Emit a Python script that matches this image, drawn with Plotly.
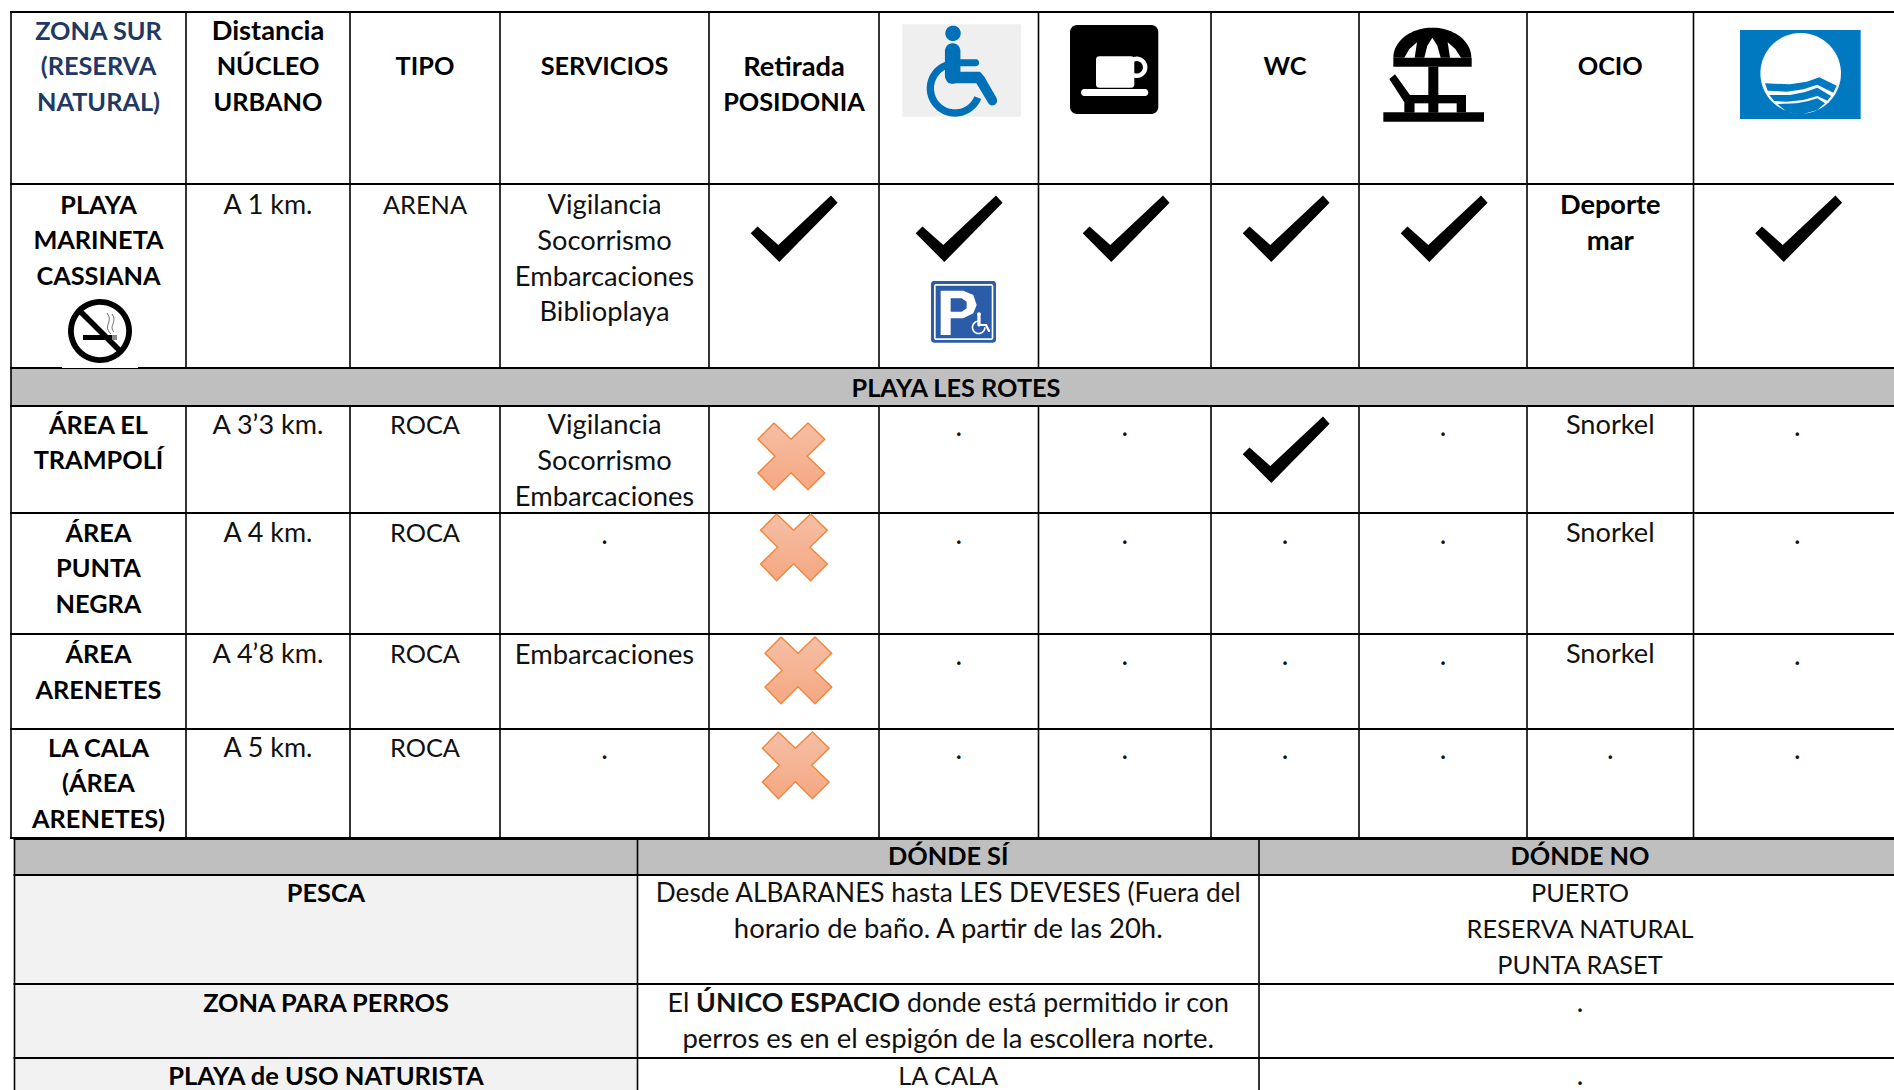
import re
import numpy as np
import plotly.graph_objects as go

# ---------- table content ----------
header_lines = [
    ["ZONA SUR", "(RESERVA", "NATURAL)"],
    ["Distancia", "NÚCLEO", "URBANO"],
    ["", "TIPO"],
    ["", "SERVICIOS"],
    ["", "Retirada", "POSIDONIA"],
    [],
    [],
    ["", "WC"],
    [],
    ["", "OCIO"],
    [],
]
zones = [
    ["PLAYA", "MARINETA", "CASSIANA"],
    ["ÁREA EL", "TRAMPOLÍ"],
    ["ÁREA", "PUNTA", "NEGRA"],
    ["ÁREA", "ARENETES"],
    ["LA CALA", "(ÁREA", "ARENETES)"],
]
distances = ["A 1 km.", "A 3’3 km.", "A 4 km.", "A 4’8 km.", "A 5 km."]
types = ["ARENA", "ROCA", "ROCA", "ROCA", "ROCA"]
services = [
    ["Vigilancia", "Socorrismo", "Embarcaciones", "Biblioplaya"],
    ["Vigilancia", "Socorrismo", "Embarcaciones"],
    ["."],
    ["Embarcaciones"],
    ["."],
]
leisure = [["Deporte", "mar"], ["Snorkel"], ["Snorkel"], ["Snorkel"], ["."]]
posidonia = ["yes", "no", "no", "no", "no"]
accessible = ["yes", ".", ".", ".", "."]
cafe = ["yes", ".", ".", ".", "."]
wc = ["yes", "yes", ".", ".", "."]
sunshade = ["yes", ".", ".", ".", "."]
blue_flag = ["yes", ".", ".", ".", "."]
section_title = "PLAYA LES ROTES"

lower_headers = ["", "DÓNDE SÍ", "DÓNDE NO"]
lower_topics = ["PESCA", "ZONA PARA PERROS", "PLAYA de USO NATURISTA"]
lower_yes = [
    ["Desde ALBARANES hasta LES DEVESES (Fuera del", "horario de baño. A partir de las 20h."],
    ["El <b>ÚNICO ESPACIO</b> donde está permitido ir con", "perros es en el espigón de la escollera norte."],
    ["LA CALA"],
]
lower_no = [["PUERTO", "RESERVA NATURAL", "PUNTA RASET"], ["."], ["."]]

# ---------- layout constants (page pixels) ----------
W, H = 1894, 1090
COLS = [11, 186, 350, 500, 709, 879, 1038.5, 1211, 1359, 1527, 1693.5, 1901]
ROWS = [12, 184, 368, 406, 513, 634, 729, 838]
LOWER_COLS = [14.5, 637.5, 1259, 1901]
LOWER_ROWS = [839, 875, 984, 1058, 1100]
centers = [(a + b) / 2 for a, b in zip(COLS, COLS[1:])]
lower_centers = [(a + b) / 2 for a, b in zip(LOWER_COLS, LOWER_COLS[1:])]
HEADER_Y = 31
ROW_Y = [205, 425, 533, 654.3, 748]
LINE = 35.7
SECTION_Y = 388
LOWER_HEADER_Y = 856.2
LOWER_Y = [893.4, 1003.4, 1076.2]
FONT = "Lato"
TEXT_SHIFT = 2.4
CHECK_TOP = [196, 417, 0, 0, 0]
CHECK_LEFT = {4: 751, 5: 916, 6: 1083, 7: 1243, 8: 1401, 10: 1755.5}
CROSS_POS = {1: (758, 423), 2: (760.6, 514), 3: (765, 637), 4: (762.4, 732)}
CHECK_SHAPE = [(80, -0.5), (86.6, 6.7), (28.3, 66), (-0.3, 37.3), (6.5, 30.5), (27.3, 49)]
CROSS_SHAPE = [(16, 0), (33, 16.3), (50, 0), (66.7, 16.3), (49.3, 33.3), (66.7, 50),
               (50, 66.7), (33, 49.7), (16, 66.7), (0, 50), (17, 33.3), (0, 16.3)]

shapes = []


def path(points, close=True):
    s = "M" + " L".join(f"{x:.2f},{y:.2f}" for x, y in points)
    return s + (" Z" if close else "")


def fill(points, color):
    d = points if isinstance(points, str) else path(points)
    shapes.append(dict(type="path", path=d, fillcolor=color, line=dict(width=0), layer="below",
                       xref="x", yref="y"))


def rect(x0, y0, x1, y1, color):
    fill([(x0, y0), (x1, y0), (x1, y1), (x0, y1)], color)


def arc(cx, cy, rx, ry, a0, a1, n=48):
    t = np.radians(np.linspace(a0, a1, n))
    return list(zip(cx + rx * np.cos(t), cy + ry * np.sin(t)))


def circle(cx, cy, r, color):
    fill(arc(cx, cy, r, r, 0, 360, 72), color)


def ring(cx, cy, ro, ri, a0, a1, color):
    fill(arc(cx, cy, ro, ro, a0, a1) + arc(cx, cy, ri, ri, a1, a0), color)


def capsule(x0, y0, x1, y1, w, color):
    a = np.degrees(np.arctan2(y1 - y0, x1 - x0))
    r = w / 2
    fill(arc(x0, y0, r, r, a + 90, a + 270, 14) + arc(x1, y1, r, r, a - 90, a + 90, 14), color)


def rrect(x0, y0, x1, y1, r, color):
    pts = (arc(x1 - r, y0 + r, r, r, -90, 0, 8) + arc(x1 - r, y1 - r, r, r, 0, 90, 8)
           + arc(x0 + r, y1 - r, r, r, 90, 180, 8) + arc(x0 + r, y0 + r, r, r, 180, 270, 8))
    fill(pts, color)


def hline(y, x0, x1, w=2):
    shapes.append(dict(type="line", x0=x0, x1=x1, y0=y, y1=y, xref="x", yref="y", layer="below",
                       line=dict(color="black", width=w)))


def vline(x, y0, y1, w=1.6):
    shapes.append(dict(type="line", x0=x, x1=x, y0=y0, y1=y1, xref="x", yref="y", layer="below",
                       line=dict(color="black", width=w)))


# ---------- backgrounds ----------
rect(COLS[0], ROWS[2], W + 10, ROWS[3], "#BFBFBF")
rect(LOWER_COLS[0], LOWER_ROWS[0], W + 10, LOWER_ROWS[1], "#BFBFBF")
rect(LOWER_COLS[0], LOWER_ROWS[1], LOWER_COLS[1], H + 10, "#F2F2F2")

# ---------- grid ----------
for y in ROWS:
    hline(y, COLS[0] - 1, W + 10)
for x in COLS[:-1]:
    vline(x, ROWS[0], ROWS[2])
    vline(x, ROWS[3], ROWS[-1])
vline(COLS[0], ROWS[2], ROWS[3])
for y in LOWER_ROWS[:-1]:
    hline(y, LOWER_COLS[0] - 1, W + 10)
for x in LOWER_COLS[:-1]:
    vline(x, LOWER_ROWS[0], H + 10)
rect(62, 366.5, 138, 368, "white")


# ---------- header pictograms ----------
def wheelchair():
    B = "#0071B8"
    rect(902.3, 24.3, 1021, 116.7, "#EFEFEF")
    ox, oy = 895, 15
    p = lambda x, y: (ox + x / 3, oy + y / 3)
    circle(*p(174, 55), 7.7, B)
    capsule(*p(173, 108), *p(173, 183), 15.5, B)
    capsule(*p(190, 143), *p(242, 143), 7, B)
    fill([p(160, 170), p(255, 170), p(268, 185), p(305, 250), p(285, 268), p(245, 205), p(160, 205)], B)
    capsule(*p(252, 190), *p(292, 257), 9.5, B)
    cx, cy = p(180, 220)
    ring(cx, cy, 28.3, 21, 22, 250, B)


def coffee():
    rrect(1070, 25, 1158.3, 114, 7, "black")
    circle(1136.7, 67.3, 10.7, "white")
    circle(1136.7, 67.3, 6.2, "black")
    rrect(1096, 56.3, 1134.3, 87.7, 3, "white")
    rrect(1081, 89, 1148.3, 96, 3.4, "white")


def sunshade_icon():
    ox, oy = 1370, 15
    p = lambda x, y: (ox + x / 3, oy + y / 3)
    cx, cy = p(187, 128)
    fill(arc(cx, cy, 117 / 3, 90 / 3, 180, 360), "black")
    rect(*p(70, 128), *p(305, 155), "black")
    for pane in ([(103, 128), (118, 102), (141, 82), (134, 128)],
                 [(163, 128), (172, 92), (187, 68), (202, 92), (212, 128)],
                 [(240, 128), (233, 82), (256, 102), (273, 128)]):
        fill([p(*q) for q in pane], "white")
    rect(*p(175, 155), *p(205, 292), "black")
    rect(*p(40, 292), *p(342, 320), "black")
    rect(*p(105, 240), *p(288, 292), "black")
    rect(*p(133, 265), *p(175, 292), "white")
    rect(*p(205, 265), *p(260, 292), "white")
    fill([p(*q) for q in [(58, 192), (75, 178), (120, 240), (133, 240), (133, 292), (103, 292), (103, 262)]], "black")


def flag():
    B = "#0079C1"
    ox, oy = 1730, 20
    p = lambda x, y: (ox + x / 3, oy + y / 3)
    rect(*p(30, 30), *p(392, 297), B)
    circle(*p(212, 160), 40.3, "white")
    for band in ([(105, 190), (180, 193), (230, 185), (268, 172), (320, 197), (310, 218), (262, 194), (220, 208), (170, 215), (113, 212)],
                 [(118, 225), (180, 225), (225, 216), (262, 203), (303, 228), (292, 242), (262, 228), (220, 240), (170, 245), (132, 243)],
                 [(142, 252), (200, 250), (235, 243), (262, 235), (285, 250), (262, 270), (212, 284), (170, 275)]):
        fill([p(*q) for q in band], B)


def parking():
    B = "#2B5CAA"
    ox, oy = 920, 270
    p = lambda x, y: (ox + x / 3, oy + y / 3)
    rrect(*p(33, 33), *p(228, 218), 3, B)
    rrect(*p(42, 42), *p(220, 210), 2, "white")
    rect(*p(47, 47), *p(215, 205), B)
    hole = path([p(92, 85), p(125, 85), p(140, 95), p(140, 115), p(125, 125), p(92, 125)])
    outer = path([p(62, 62), p(130, 62), p(160, 75), p(170, 105), p(160, 130), p(130, 145),
                  p(92, 145), p(92, 195), p(62, 195)])
    fill(outer + " " + hole, "white")
    circle(*p(177, 133), 2, "white")
    capsule(*p(177, 140), *p(177, 165), 3.2, "white")
    capsule(*p(177, 165), *p(198, 165), 2.2, "white")
    capsule(*p(198, 165), *p(207, 183), 2.2, "white")
    cx, cy = p(176, 172)
    ring(cx, cy, 7, 5.4, 0, 270, "white")


def no_smoking():
    cx, cy = 100, 331
    ring(cx, cy, 32, 26.2, 0, 360, "black")
    a = np.radians(45)
    capsule(cx - 27 * np.cos(a), cy - 27 * np.sin(a), cx + 27 * np.cos(a), cy + 27 * np.sin(a), 5.6, "black")
    rect(cx - 17, cy + 4, cx + 12, cy + 9, "black")
    rect(cx + 12, cy + 4, cx + 17, cy + 9, "#8A8A8A")
    shapes.append(dict(type="path", xref="x", yref="y", layer="below", line=dict(color="#707070", width=1),
                       path=f"M{cx + 11},{cy + 3} C{cx + 2},{cy - 5} {cx + 14},{cy - 9} {cx + 7},{cy - 18}"))
    shapes.append(dict(type="path", xref="x", yref="y", layer="below", line=dict(color="#707070", width=1),
                       path=f"M{cx + 14},{cy + 1} C{cx + 8},{cy - 5} {cx + 18},{cy - 9} {cx + 12},{cy - 17}"))


wheelchair(); coffee(); sunshade_icon(); flag(); parking(); no_smoking()

# ---------- collect text ----------
bold = ([], [], [])
regular = ([], [], [])
navy = ([], [], [])


def put(bucket, x, y, lines, dot_dy=3.8):
    for i, t in enumerate(lines):
        if t:
            bucket[0].append(x)
            bucket[1].append(y + i * LINE + (dot_dy if t == "." else TEXT_SHIFT))
            bucket[2].append(t)


def font_size(text):
    """Lato's capitals run wider than the reference's, its lowercase narrower."""
    plain = re.sub(r"<[^>]+>", "", text)
    chars = [c for c in plain if c.isalnum()]
    if not chars:
        return 28
    frac = sum(c.islower() or c.isdigit() for c in chars) / len(chars)
    return 25.3 + 2.2 * frac


for c, lines in enumerate(header_lines):
    put(navy if c == 0 else bold, centers[c], HEADER_Y, lines)
for r in range(5):
    y = ROW_Y[r]
    put(bold, centers[0], y, zones[r])
    put(regular, centers[1], y, [distances[r]])
    put(regular, centers[2], y, [types[r]])
    put(regular, centers[3], y, services[r])
    put(bold if r == 0 else regular, centers[9], y, leisure[r])
put(bold, (COLS[0] + 1901) / 2, SECTION_Y, [section_title])
for x, t in zip(lower_centers, lower_headers):
    put(bold, x, LOWER_HEADER_Y, [t])
for r in range(3):
    put(bold, lower_centers[0], LOWER_Y[r], [lower_topics[r]])
    put(regular, lower_centers[1], LOWER_Y[r], lower_yes[r])
    put(regular, lower_centers[2], LOWER_Y[r], lower_no[r], dot_dy=1.8)

# ---------- marks ----------
fig = go.Figure()
for col, values in {5: accessible, 6: cafe, 7: wc, 8: sunshade, 10: blue_flag, 4: posidonia}.items():
    for r, v in enumerate(values):
        if v == "yes":
            left, top = CHECK_LEFT[col], CHECK_TOP[r]
            fill([(left + a, top + b) for a, b in CHECK_SHAPE], "black")
        elif v == ".":
            put(regular, centers[col], ROW_Y[r], ["."])
        elif v == "no":
            left, top = CROSS_POS[r]
            pts = CROSS_SHAPE + CROSS_SHAPE[:1]
            fig.add_trace(go.Scatter(
                x=[left + a for a, _ in pts], y=[top + b for _, b in pts],
                mode="lines", fill="toself", line=dict(color="#F0883F", width=1.5),
                fillgradient=dict(type="vertical", colorscale=[[0, "#F5A781"], [1, "#F5BFA6"]]),
                hoverinfo="skip", showlegend=False))

for bucket, prefix, color in ((regular, "", "#111111"), (bold, "<b>", "#000000"), (navy, "<b>", "#1F3864")):
    fig.add_trace(go.Scatter(
        x=bucket[0], y=bucket[1],
        text=[prefix + t + ("</b>" if prefix else "") for t in bucket[2]],
        mode="text", textposition="middle center",
        textfont=dict(family=FONT, size=[font_size(t) for t in bucket[2]], color=color),
        hoverinfo="skip", showlegend=False))

fig.update_layout(
    width=W, height=H, margin=dict(l=0, r=0, t=0, b=0), autosize=False,
    paper_bgcolor="white", plot_bgcolor="white", shapes=shapes,
    xaxis=dict(range=[0, W], visible=False, fixedrange=True),
    yaxis=dict(range=[H, 0], visible=False, fixedrange=True),
)
fig.write_html("out.html", config={"displayModeBar": False},
               post_script="document.body.style.margin='0';document.body.style.overflow='hidden';")
